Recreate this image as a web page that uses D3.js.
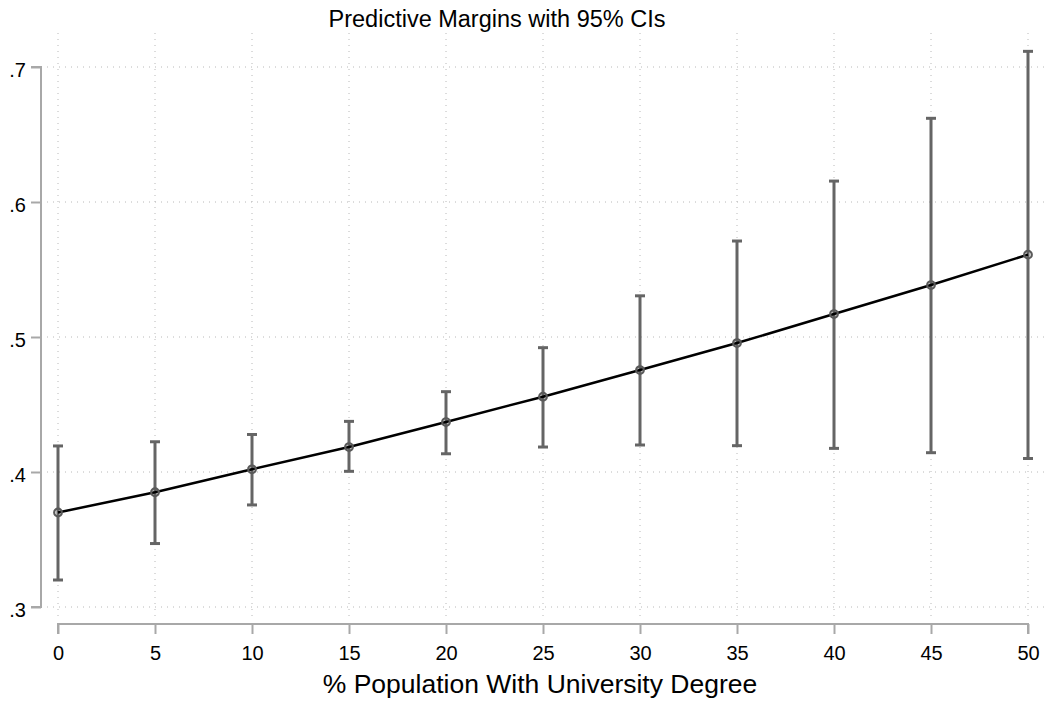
<!DOCTYPE html>
<html>
<head>
<meta charset="utf-8">
<script src="https://cdn.jsdelivr.net/npm/d3@7"></script>
<style>
  body { margin: 0; background: #fff; }
  svg { font-family: "Liberation Sans", Arial, sans-serif; }
</style>
</head>
<body>
<div id="content"></div>
<script>
// predictive margins, 95% CIs
var xValues = [0, 5, 10, 15, 20, 25, 30, 35, 40, 45, 50];
var margins = [0.370, 0.385, 0.402, 0.4185, 0.437, 0.4558, 0.4755, 0.4955, 0.517, 0.5385, 0.561];
var ciLower = [0.320, 0.347, 0.3756, 0.4005, 0.4135, 0.4185, 0.420, 0.4195, 0.4175, 0.4143, 0.410];
var ciUpper = [0.4193, 0.4224, 0.4278, 0.4375, 0.4595, 0.4921, 0.5305, 0.5711, 0.6155, 0.662, 0.7116];
var yTicks = [0.3, 0.4, 0.5, 0.6, 0.7];
var xTicks = [0, 5, 10, 15, 20, 25, 30, 35, 40, 45, 50];

var W = 1044, H = 703;

var svg = d3.select("#content").append("svg")
  .attr("width", W).attr("height", H);

var x = d3.scaleLinear().domain([0, 50]).range([58, 1028]);
var y = d3.scaleLinear().domain([0.3, 0.7]).range([607, 67]);

// gridlines
svg.append("g").selectAll("line")
  .data(yTicks)
  .enter().append("line")
  .attr("x1", 47).attr("x2", W)
  .attr("y1", function(d) { return y(d); })
  .attr("y2", function(d) { return y(d); })
  .attr("stroke", "#b8b8b8").attr("stroke-width", 1)
  .attr("stroke-dasharray", "1,5");

svg.append("g").selectAll("line")
  .data(xTicks)
  .enter().append("line")
  .attr("x1", function(d) { return x(d); })
  .attr("x2", function(d) { return x(d); })
  .attr("y1", 33).attr("y2", 620)
  .attr("stroke", "#b8b8b8").attr("stroke-width", 1)
  .attr("stroke-dasharray", "1,5");

// y axis
var yAxis = svg.append("g")
  .attr("transform", "translate(41,0)")
  .call(d3.axisLeft(y).tickValues(yTicks).tickSize(10).tickPadding(5)
    .tickFormat(function(d) { return d3.format(".1f")(d).replace(/^0/, ""); }));
yAxis.select(".domain").attr("stroke", "#a8a8a8").attr("stroke-width", 2)
  .attr("d", "M-10," + y(0.7) + "H0V" + y(0.3) + "H-10");
yAxis.selectAll(".tick line").attr("stroke", "#a8a8a8").attr("stroke-width", 2);
yAxis.selectAll(".tick text").attr("fill", "#000").style("font-size", "20px").attr("dy", "0.48em");

// x axis
var xAxis = svg.append("g")
  .attr("transform", "translate(0,624)")
  .call(d3.axisBottom(x).tickValues(xTicks).tickSize(10).tickPadding(12));
xAxis.select(".domain").attr("stroke", "#a8a8a8").attr("stroke-width", 2)
  .attr("d", "M" + x(0) + ",10V0H" + x(50) + "V10");
xAxis.selectAll(".tick line").attr("stroke", "#a8a8a8").attr("stroke-width", 2);
xAxis.selectAll(".tick text").attr("fill", "#000").style("font-size", "20px");

// error bars
var bars = svg.append("g").selectAll("g")
  .data(xValues)
  .enter().append("g");

bars.append("line")
  .attr("x1", function(d) { return x(d); })
  .attr("x2", function(d) { return x(d); })
  .attr("y1", function(d, i) { return y(ciLower[i]); })
  .attr("y2", function(d, i) { return y(ciUpper[i]); })
  .attr("stroke", "#656565").attr("stroke-width", 3);

bars.append("line")
  .attr("x1", function(d) { return x(d) - 5; })
  .attr("x2", function(d) { return x(d) + 5; })
  .attr("y1", function(d, i) { return y(ciLower[i]); })
  .attr("y2", function(d, i) { return y(ciLower[i]); })
  .attr("stroke", "#656565").attr("stroke-width", 3);

bars.append("line")
  .attr("x1", function(d) { return x(d) - 5; })
  .attr("x2", function(d) { return x(d) + 5; })
  .attr("y1", function(d, i) { return y(ciUpper[i]); })
  .attr("y2", function(d, i) { return y(ciUpper[i]); })
  .attr("stroke", "#656565").attr("stroke-width", 3);

// margins line
var line = d3.line()
  .x(function(d, i) { return x(xValues[i]); })
  .y(function(d) { return y(d); });

svg.append("path")
  .datum(margins)
  .attr("d", line)
  .attr("fill", "none")
  .attr("stroke", "#000")
  .attr("stroke-width", 2.5);

svg.append("g").selectAll("circle")
  .data(margins)
  .enter().append("circle")
  .attr("cx", function(d, i) { return x(xValues[i]); })
  .attr("cy", function(d) { return y(d); })
  .attr("r", 3.8)
  .attr("fill", "none")
  .attr("stroke", "#5a5a5a").attr("stroke-width", 2.2);

// titles
svg.append("text")
  .attr("x", 497).attr("y", 27)
  .attr("text-anchor", "middle")
  .style("font-size", "23.5px")
  .text("Predictive Margins with 95% CIs");

svg.append("text")
  .attr("x", 540).attr("y", 693)
  .attr("text-anchor", "middle")
  .style("font-size", "26.5px")
  .text("% Population With University Degree");
</script>
</body>
</html>
